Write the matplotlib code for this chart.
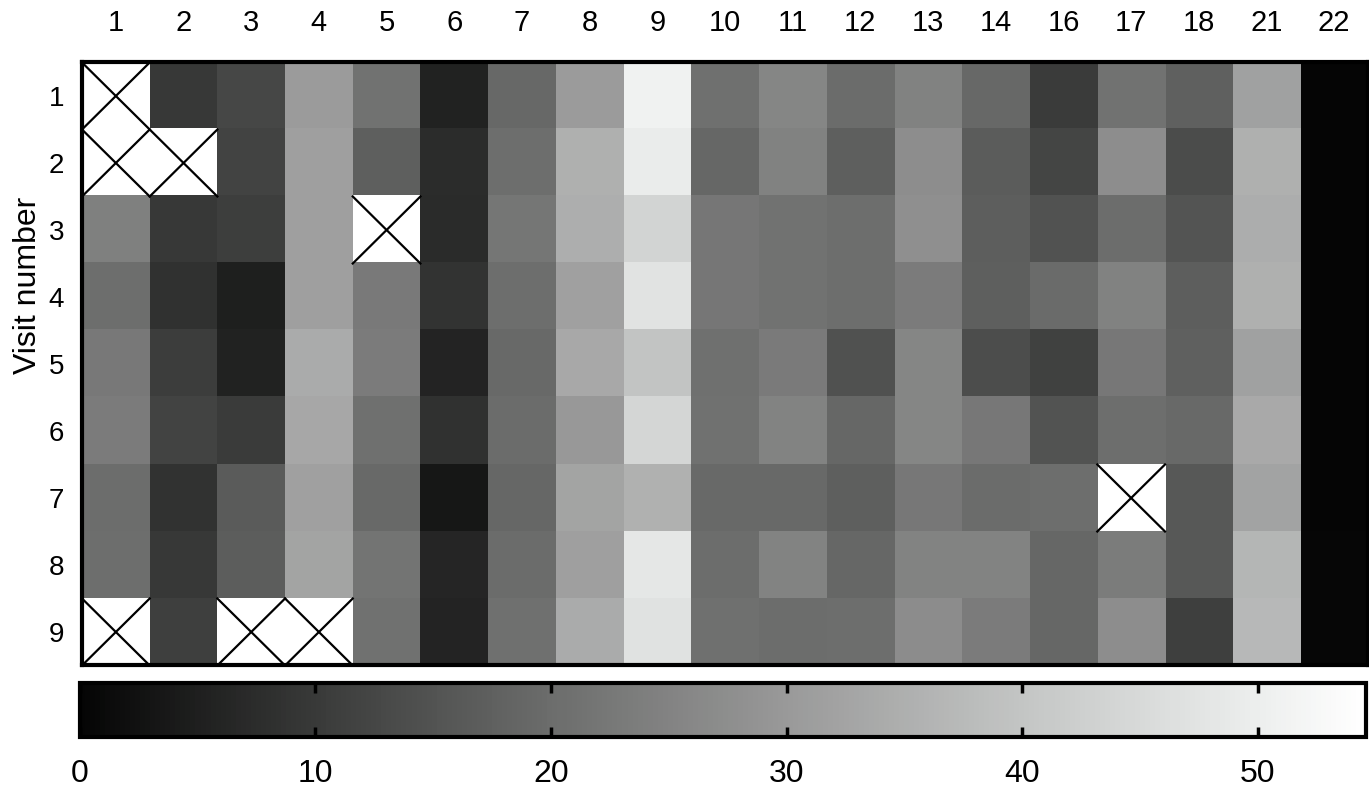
import numpy as np
import matplotlib
matplotlib.use("Agg")
from matplotlib import pyplot as plt
from matplotlib.colors import LinearSegmentedColormap

plt.rcParams['font.family'] = ['Liberation Sans', 'DejaVu Sans']

columns = ['1', '2', '3', '4', '5', '6', '7', '8', '9', '10', '11', '12', '13',
           '14', '16', '17', '18', '21', '22']
visits = ['1', '2', '3', '4', '5', '6', '7', '8', '9']
nan = np.nan

visit1 = [nan, 9.8, 12.7, 30.5, 21.3, 5.7, 19.0, 30.7, 51.0, 20.9, 25.8, 20.0, 24.9, 19.0, 10.4, 21.3, 17.5, 31.9, 0.2]
visit2 = [nan, nan, 11.9, 31.4, 17.3, 7.5, 20.4, 35.3, 49.5, 18.8, 24.9, 17.3, 27.3, 16.7, 12.3, 27.3, 13.8, 35.3, 0.0]
visit3 = [24.4, 9.6, 11.0, 31.4, nan, 7.3, 22.0, 34.9, 43.8, 22.2, 21.3, 20.4, 27.8, 17.1, 14.8, 20.2, 15.2, 34.7, 0.0]
visit4 = [20.4, 8.4, 5.1, 31.4, 22.9, 8.8, 20.4, 31.6, 47.5, 22.2, 21.3, 20.4, 23.3, 17.3, 19.8, 24.9, 17.1, 35.3, 0.0]
visit5 = [22.7, 10.8, 5.7, 34.2, 23.3, 5.9, 19.4, 33.5, 39.8, 20.7, 23.1, 14.6, 25.8, 14.0, 11.7, 22.4, 17.5, 31.9, 0.0]
visit6 = [23.3, 11.9, 10.4, 33.3, 20.9, 8.4, 20.0, 30.0, 44.3, 21.1, 25.1, 18.8, 25.6, 22.4, 15.0, 20.4, 19.4, 33.7, 0.0]
visit7 = [20.2, 8.6, 16.5, 31.6, 19.4, 3.5, 18.8, 32.6, 35.6, 19.4, 19.4, 17.3, 22.4, 20.0, 20.4, nan, 16.2, 32.3, 0.0]
visit8 = [20.4, 9.6, 16.9, 32.6, 21.6, 6.3, 20.0, 31.4, 48.3, 20.2, 25.1, 18.8, 25.1, 25.1, 18.8, 23.6, 16.0, 36.5, 0.4]
visit9 = [nan, 11.2, nan, nan, 21.1, 5.9, 20.9, 34.2, 47.0, 20.9, 20.2, 20.4, 27.1, 23.3, 18.8, 27.3, 11.2, 37.2, 0.4]

cbar_ticks = [0, 10, 20, 30, 40, 50]
vmax = 54.6

data = np.array([visit1, visit2, visit3, visit4, visit5, visit6, visit7, visit8, visit9])

# grey ramp
cmap = LinearSegmentedColormap.from_list('greys', [
    (0.0, '#050505'),
    (10 / vmax, '#393a39'),
    (20 / vmax, '#6c6d6c'),
    (30 / vmax, '#999999'),
    (40 / vmax, '#c3c5c4'),
    (50 / vmax, '#eceeed'),
    (1.0, '#ffffff'),
])
cmap.set_bad('white')

fig = plt.figure(figsize=(13.69, 7.90), dpi=100)
ax = fig.add_axes([0.0599, 0.1576, 0.9394, 0.7633])
im = ax.imshow(np.ma.masked_invalid(data), cmap=cmap, vmin=0, vmax=vmax,
               aspect='auto', interpolation='nearest')

# crosses over the missing cells
for r, c in zip(*np.where(np.isnan(data))):
    ax.plot([c - 0.5, c + 0.5], [r - 0.5, r + 0.5], color='black', lw=1.6)
    ax.plot([c - 0.5, c + 0.5], [r + 0.5, r - 0.5], color='black', lw=1.6)

ax.set_xlim(-0.5, len(columns) - 0.5)
ax.set_ylim(len(visits) - 0.5, -0.5)
ax.set_xticks(range(len(columns)))
ax.set_xticklabels(columns, fontsize=21)
ax.set_yticks(range(len(visits)))
ax.set_yticklabels(visits, fontsize=20)
ax.xaxis.tick_top()
ax.tick_params(axis='x', length=0, pad=18)
ax.tick_params(axis='y', length=0, pad=13)
ax.set_ylabel('Visit number', fontsize=23)
ax.yaxis.set_label_coords(-0.030, 0.63)
for s in ax.spines.values():
    s.set_linewidth(3)

cax = fig.add_axes([0.0584, 0.0671, 0.9394, 0.0684])
cb = fig.colorbar(im, cax=cax, orientation='horizontal', ticks=cbar_ticks)
cb.outline.set_linewidth(3)
cax.tick_params(axis='x', direction='in', length=7, width=2.5, top=True,
                bottom=True, labelsize=23, pad=16)

fig.savefig('out.png', dpi=100)
